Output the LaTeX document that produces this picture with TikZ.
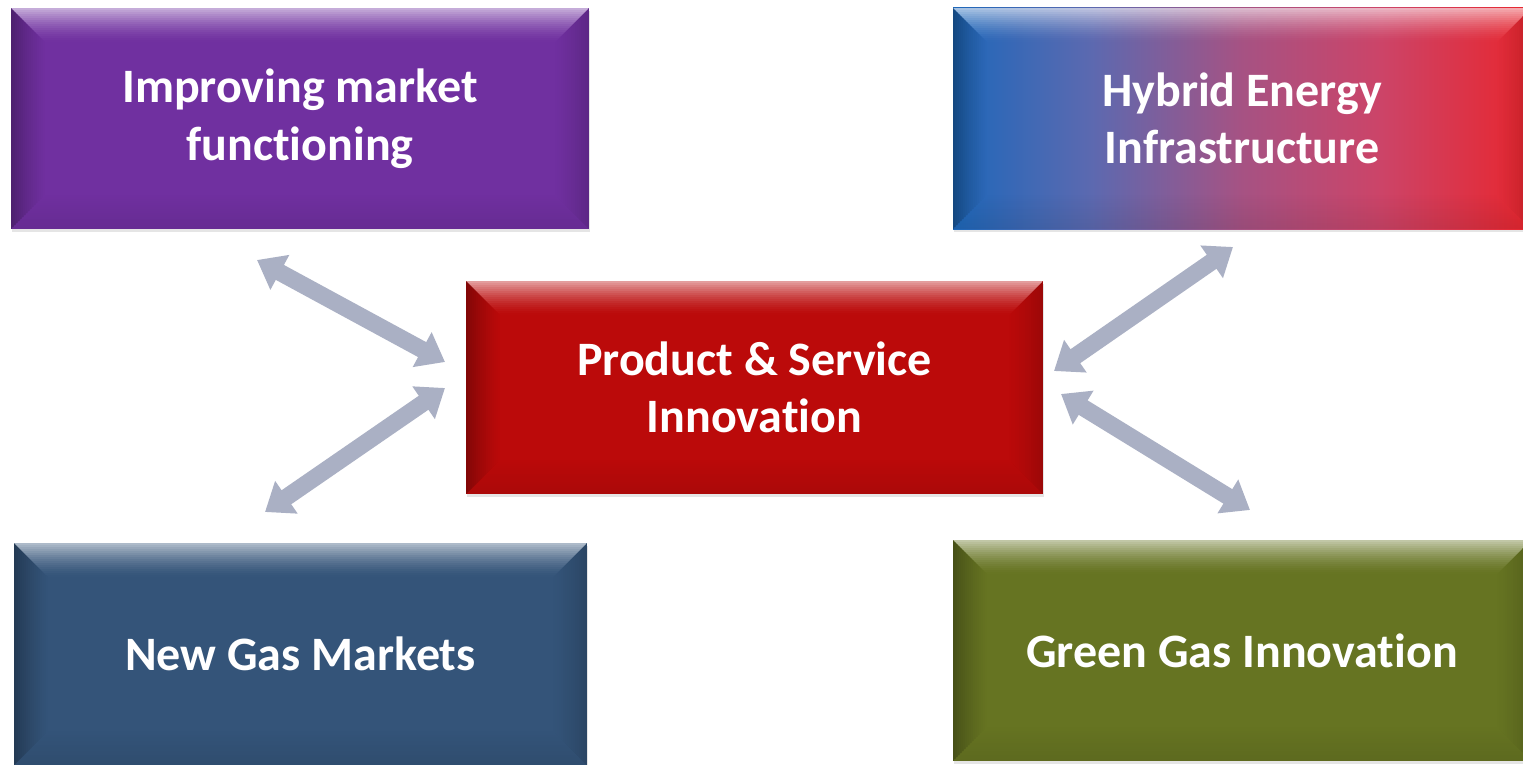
\documentclass[tikz,border=0pt]{standalone}
\usepackage{fontspec}
\setmainfont{Carlito}[RawFeature={-liga;-clig;-calt;-dlig}]
\usetikzlibrary{arrows.meta,shadows}
\newcommand\nolig{\kern0pt }
\definecolor{arrowgray}{RGB}{170,176,196}
\definecolor{purplebase}{RGB}{112,48,160}
\definecolor{navybase}{RGB}{52,84,121}
\definecolor{olivebase}{RGB}{102,116,34}
\definecolor{redbase}{RGB}{187,10,10}
\definecolor{hbA}{RGB}{30,104,186}
\definecolor{hbB}{RGB}{92,105,176}
\definecolor{hbC}{RGB}{166,82,131}
\definecolor{hbD}{RGB}{204,68,104}
\definecolor{hbE}{RGB}{232,38,46}
\pgfdeclarehorizontalshading{hybridshade}{100bp}{color(0bp)=(hbA); color(25bp)=(hbA); color(37bp)=(hbB); color(50bp)=(hbC); color(62bp)=(hbD); color(75bp)=(hbE); color(100bp)=(hbE)}
\tikzset{
  box/.style={rectangle, inner sep=0pt, outer sep=0pt, text=white, align=center,
    font=\bfseries\fontsize{48}{57.5}\selectfont,
    drop shadow={opacity=0.2, shadow xshift=1pt, shadow yshift=-3pt},
    bevel},
  bevel/.style={path picture={
    \coordinate (NW) at (path picture bounding box.north west);
    \coordinate (NE) at (path picture bounding box.north east);
    \coordinate (SW) at (path picture bounding box.south west);
    \coordinate (SE) at (path picture bounding box.south east);
    % top highlight
    \begin{scope}
      \clip (NW) -- (NE) -- ([shift={(-34,34)}]NE) -- ([shift={(34,34)}]NW) -- cycle;
      \foreach \i in {0,...,16}{
        \pgfmathsetmacro\a{0.6*(1-\i/17)^1.6}
        \fill[white, opacity=\a] ([shift={(0,\i*2)}]NW) rectangle ([shift={(0,\i*2+2)}]NE);
      }
    \end{scope}
    % left shade
    \begin{scope}
      \clip (NW) -- ([shift={(34,34)}]NW) -- ([shift={(34,-34)}]SW) -- (SW) -- cycle;
      \foreach \i in {0,...,16}{
        \pgfmathsetmacro\a{0.3*(1-\i/17)^1.3}
        \fill[black, opacity=\a] ([shift={(\i*2,0)}]NW) rectangle ([shift={(\i*2+2,0)}]SW);
      }
    \end{scope}
    % right shade
    \begin{scope}
      \clip (NE) -- ([shift={(-34,34)}]NE) -- ([shift={(-34,-34)}]SE) -- (SE) -- cycle;
      \foreach \i in {0,...,16}{
        \pgfmathsetmacro\a{0.16*(1-\i/17)^1.3}
        \fill[black, opacity=\a] ([shift={(-\i*2,0)}]NE) rectangle ([shift={(-\i*2-2,0)}]SE);
      }
    \end{scope}
    % bottom shade
    \begin{scope}
      \clip (SW) -- ([shift={(34,-34)}]SW) -- ([shift={(-34,-34)}]SE) -- (SE) -- cycle;
      \foreach \i in {0,...,16}{
        \pgfmathsetmacro\a{0.08*(1-\i/17)}
        \fill[black, opacity=\a] ([shift={(0,-\i*2)}]SW) rectangle ([shift={(0,-\i*2-2)}]SE);
      }
    \end{scope}
  }},
  link/.style={draw=arrowgray, line width=17pt,
    {Triangle[width=38pt,length=26pt]}-{Triangle[width=38pt,length=26pt]}}
}
\begin{document}
\begin{tikzpicture}[x=1pt,y=-1pt]
\useasboundingbox (0,0) rectangle (1523,765);
\clip (0,0) rectangle (1523,765);
\fill[white] (0,0) rectangle (1523,765);

\node[box, fill=purplebase, minimum width=578pt, minimum height=221pt] (imf) at (300,118.5) {Improving market\\funct\nolig ioning};
\node[box, shade, shading=hybridshade, minimum width=578pt, minimum height=221pt] (heo) at (1242,118.5) {Hybrid Energy\\Infrastructure};
\node[box, fill=redbase, minimum width=577pt, minimum height=213pt] (psi) at (754.5,387.5) {Product \& Service\\Innovat\nolig ion};
\node[box, fill=navybase, minimum width=573pt, minimum height=222pt] (ngm) at (300.5,654) {New Gas Markets};
\node[box, fill=olivebase, minimum width=578pt, minimum height=221pt] (ggi) at (1242,650.5) {Green Gas Innovat\nolig ion};

\coordinate (a1s) at ([shift={(-43,31)}]imf.south);
\coordinate (a1e) at ([shift={(-21,-25.5)}]psi.west);
\coordinate (a2s) at ([shift={(-35.5,-31)}]ngm.north);
\coordinate (a2e) at ([shift={(-21,0.5)}]psi.west);
\coordinate (a3s) at ([shift={(-9,18)}]heo.south);
\coordinate (a3e) at ([shift={(11,-16.5)}]psi.east);
\coordinate (a4s) at ([shift={(8,-30)}]ggi.north);
\coordinate (a4e) at ([shift={(18,6.5)}]psi.east);

\draw[link] (a1s) -- (a1e);
\draw[link] (a2s) -- (a2e);
\draw[link] (a3s) -- (a3e);
\draw[link] (a4s) -- (a4e);
\end{tikzpicture}
\end{document}
